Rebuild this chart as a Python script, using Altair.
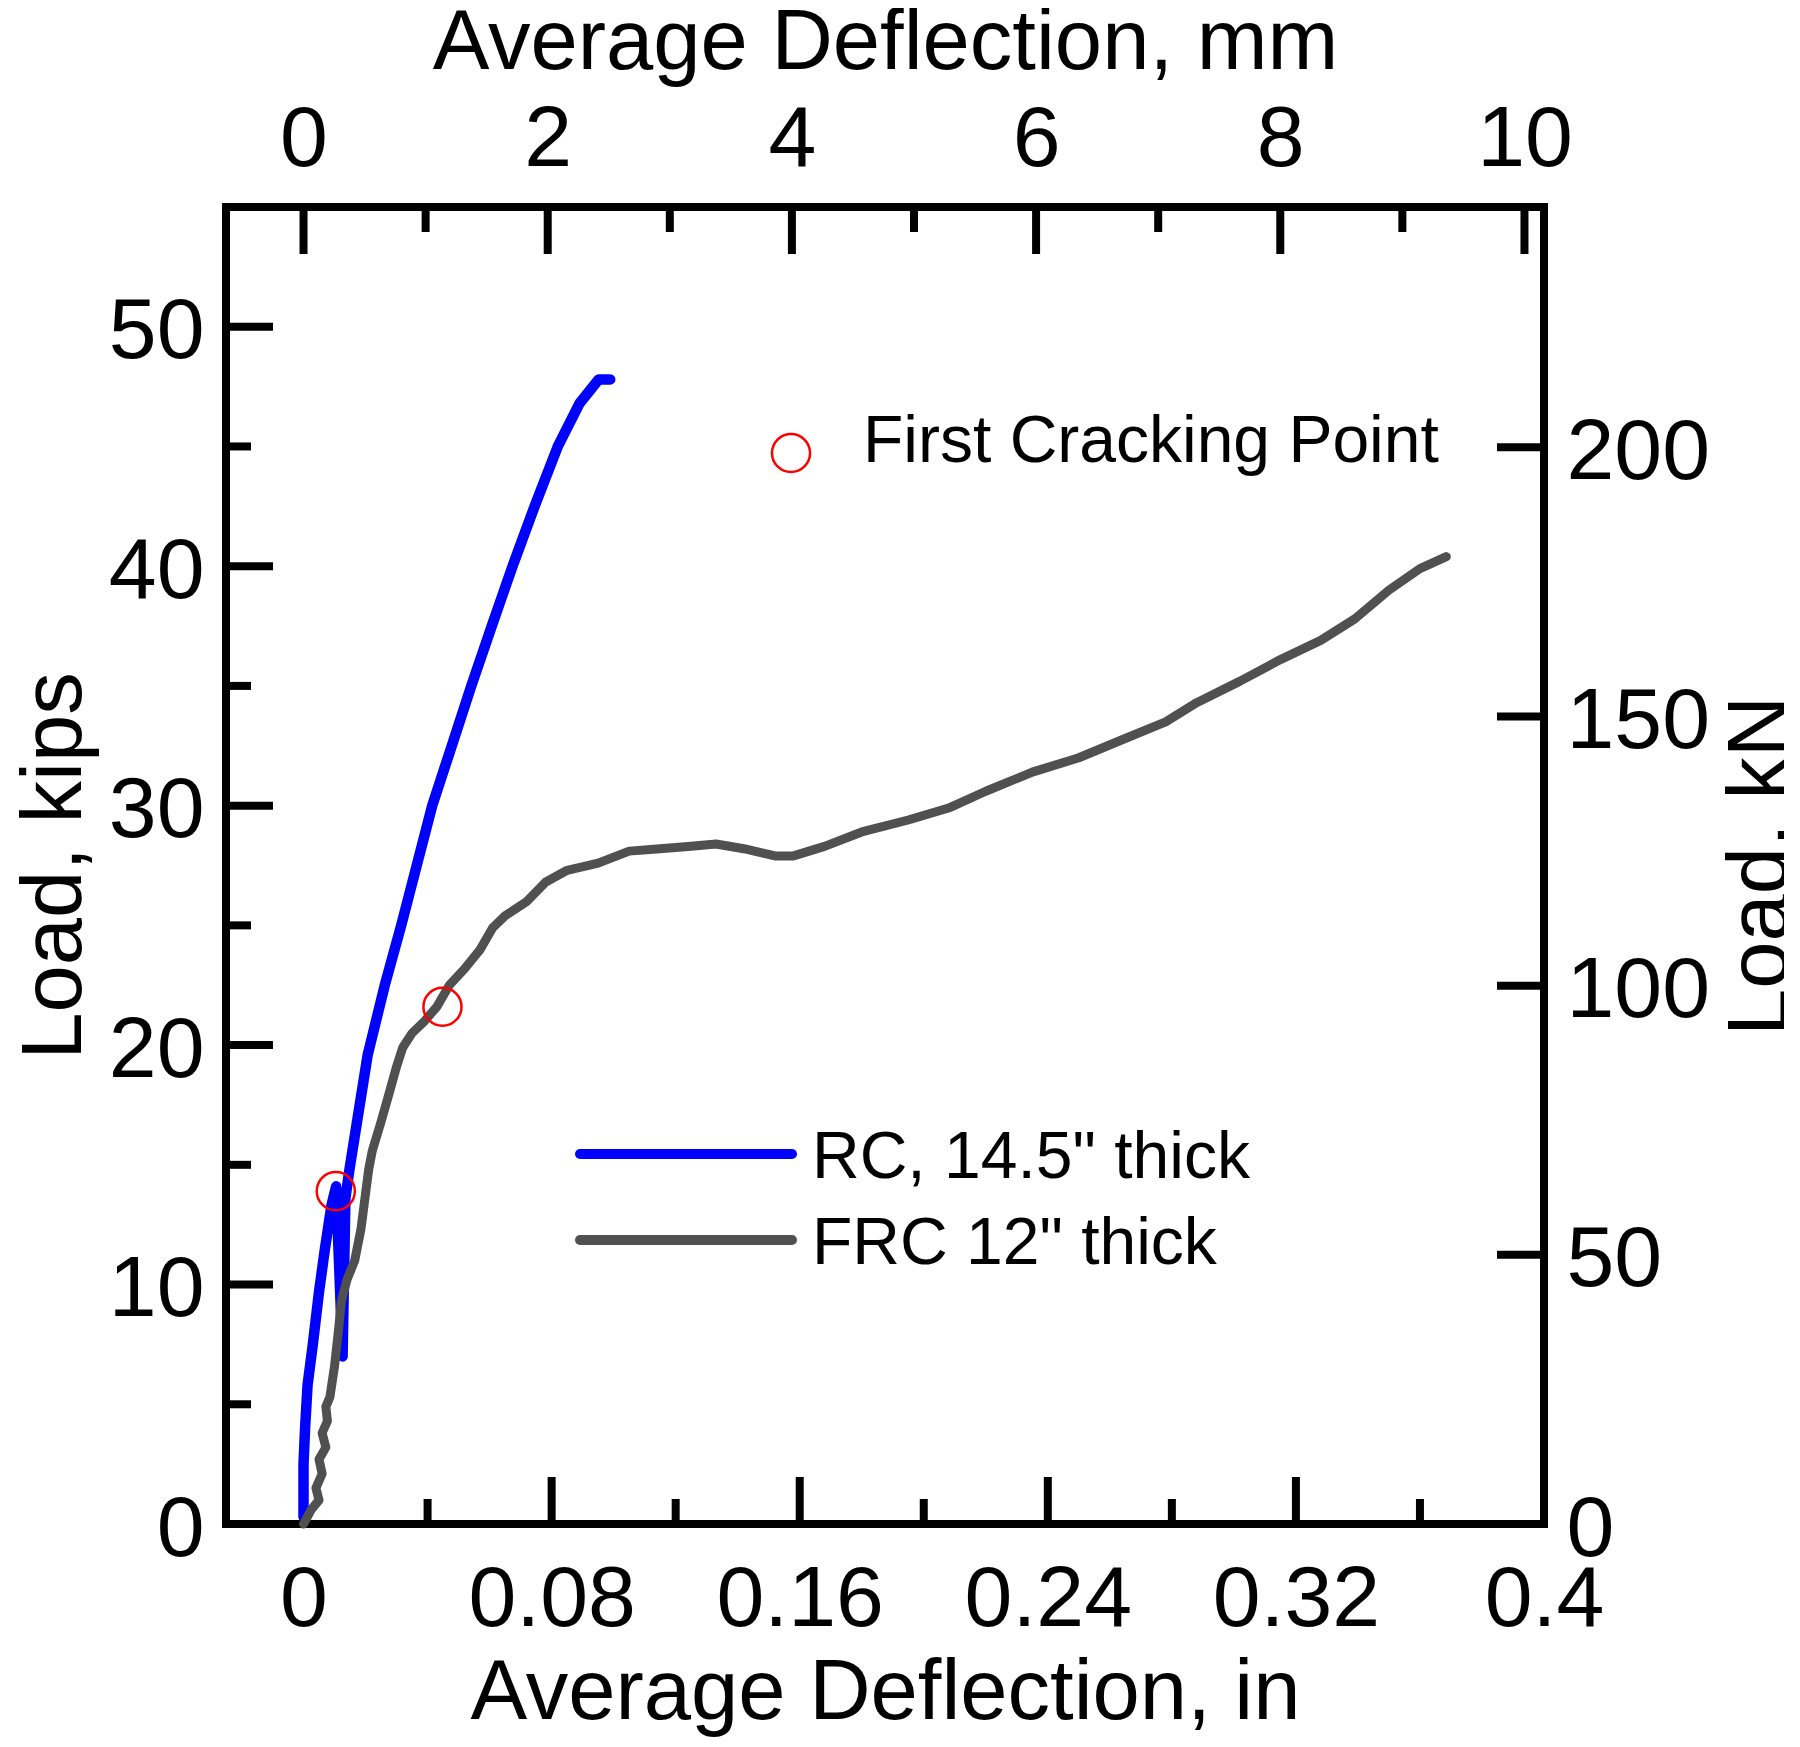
import altair as alt
import pandas as pd

# ---------------- data ----------------
rc_defl_in = [0.0, 0.0, 0.0005, 0.0013, 0.003, 0.005, 0.0068, 0.009, 0.0105,
              0.0126, 0.0135, 0.0148, 0.0175, 0.0207, 0.0262, 0.0315, 0.0365,
              0.0415, 0.0478, 0.0541, 0.0607, 0.0674, 0.0745, 0.0820, 0.0890,
              0.0952, 0.0989]
rc_load_kips = [0.3, 2.5, 4.0, 5.8, 7.5, 9.7, 11.4, 13.3, 14.1,
                7.0, 13.6, 14.8, 17.0, 19.6, 22.5, 25.0, 27.5,
                30.0, 32.5, 35.0, 37.5, 40.0, 42.5, 45.0, 46.8,
                47.8, 47.8]

frc_defl_in = [0.0, 0.0025, 0.005, 0.004, 0.006, 0.005, 0.0072, 0.006, 0.0077,
               0.0072, 0.0085, 0.0100, 0.0112, 0.0122, 0.0140, 0.0165, 0.0185,
               0.0197, 0.0210, 0.0222, 0.0250, 0.0272, 0.0300, 0.0320, 0.0350,
               0.0390, 0.0430, 0.0470, 0.0520, 0.0570, 0.0610, 0.0650, 0.0720,
               0.0780, 0.0850, 0.0950, 0.1050, 0.1150, 0.1250, 0.1330, 0.1420,
               0.1520, 0.1580, 0.1680, 0.1800, 0.1950, 0.2080, 0.2200, 0.2350,
               0.2500, 0.2630, 0.2780, 0.2880, 0.3020, 0.3150, 0.3280, 0.3390,
               0.3500, 0.3600, 0.3685]
frc_load_kips = [0.0, 0.6, 1.0, 1.5, 2.1, 2.7, 3.2, 3.8, 4.3,
                 4.9, 5.3, 6.6, 8.0, 9.3, 10.2, 11.0, 12.3,
                 13.5, 14.8, 15.6, 16.8, 17.8, 19.1, 19.9, 20.5,
                 21.0, 21.6, 22.5, 23.2, 24.0, 24.9, 25.4, 26.0,
                 26.8, 27.3, 27.6, 28.1, 28.2, 28.3, 28.4, 28.2,
                 27.9, 27.9, 28.3, 28.9, 29.4, 29.9, 30.6, 31.4,
                 32.0, 32.7, 33.5, 34.3, 35.2, 36.1, 36.9, 37.8,
                 39.0, 39.9, 40.4]

crack_defl_in = [0.0104, 0.0448]
crack_load_kips = [13.9, 21.6]

series_names = ['RC, 14.5" thick', 'FRC 12" thick']
series_colors = ['#0000ff', '#505050']
crack_label = 'First Cracking Point'

in_major = [0, 0.08, 0.16, 0.24, 0.32, 0.4]
in_minor = [0.04, 0.12, 0.2, 0.28, 0.36]
mm_major = [0, 2, 4, 6, 8, 10]
mm_minor = [1, 3, 5, 7, 9]
kips_major = [0, 10, 20, 30, 40, 50]
kips_minor = [5, 15, 25, 35, 45]
kn_major = [0, 50, 100, 150, 200]

KIP_TO_KN = 4.44822
IN_TO_MM = 25.4
x_dom = [-0.025, 0.4]
y_dom = [0, 55]

# ---------------- layout / style ----------------
W, H = 1318, 1317
FONT = 'Liberation Sans'
LBL = 86
TTL = 85
LEG = 66
MAJ, MIN = 47, 25
TW = 8

common = dict(grid=False, domain=False, ticks=False, tickSize=0,
              labelFont=FONT, labelFontSize=LBL, labelColor='black',
              labelFlush=False, labelOverlap=False,
              titleFont=FONT, titleFontSize=TTL, titleFontWeight='normal',
              titleColor='black', titleAlign='center', titleBaseline='alphabetic')

ax_bottom = alt.Axis(orient='bottom', values=in_major, format='.2~f',
                     title='Average Deflection, in', labelPadding=101,
                     labelBaseline='alphabetic', titleX=W / 2, titleY=194, **common)
ax_left = alt.Axis(orient='left', values=kips_major, format='d',
                   title='Load, kips', labelPadding=22, labelAlign='right',
                   labelBaseline='alphabetic', labelOffset=31,
                   titleX=-146, titleY=H / 2, titleAngle=270, **common)
ax_top = alt.Axis(orient='top', values=mm_major, format='d',
                  title='Average Deflection, mm', labelPadding=42,
                  labelBaseline='alphabetic', titleX=W / 2, titleY=-139, **common)
ax_right = alt.Axis(orient='right', values=kn_major, format='d',
                    title='Load, kN', labelPadding=22, labelAlign='left',
                    labelBaseline='alphabetic', labelOffset=31,
                    titleX=242, titleY=H / 2, titleAngle=270, **common)

sx_in = alt.Scale(domain=x_dom, nice=False, zero=False)
sy_kips = alt.Scale(domain=y_dom, nice=False, zero=False)
sx_mm = alt.Scale(domain=[x_dom[0] * IN_TO_MM, x_dom[1] * IN_TO_MM], nice=False, zero=False)
sy_kn = alt.Scale(domain=[y_dom[0] * KIP_TO_KN, y_dom[1] * KIP_TO_KN], nice=False, zero=False)


def X_in(f):
    return alt.X(f, type='quantitative', scale=sx_in, axis=ax_bottom)


def Y_kips(f):
    return alt.Y(f, type='quantitative', scale=sy_kips, axis=ax_left)


rc_df = pd.DataFrame({'d': rc_defl_in, 'p': rc_load_kips, 'i': range(len(rc_defl_in))})
frc_df = pd.DataFrame({'d': frc_defl_in, 'p': frc_load_kips, 'i': range(len(frc_defl_in))})
crack_df = pd.DataFrame({'d': crack_defl_in, 'p': crack_load_kips})

rc_line = alt.Chart(rc_df).mark_line(
    color=series_colors[0], strokeWidth=10.5, strokeCap='round', strokeJoin='round'
).encode(x=X_in('d'), y=Y_kips('p'), order='i:Q')

frc_line = alt.Chart(frc_df).mark_line(
    color=series_colors[1], strokeWidth=9, strokeCap='round', strokeJoin='round'
).encode(x=X_in('d'), y=Y_kips('p'), order='i:Q')

crack_pts = alt.Chart(crack_df).mark_point(
    shape='circle', filled=False, color='#ff0000', size=1450, strokeWidth=2.5, opacity=1
).encode(x=X_in('d'), y=Y_kips('p'))


# inward ticks
def vticks(vals, length, top, scale_x, axis):
    df = pd.DataFrame({'v': vals})
    if top:
        yy, yy2 = alt.value(0), alt.value(length)
    else:
        yy, yy2 = alt.value(H), alt.value(H - length)
    return alt.Chart(df).mark_rule(color='black', strokeWidth=TW).encode(
        x=alt.X('v:Q', scale=scale_x, axis=axis), y=yy, y2=yy2)


def hticks(vals, length, right, scale_y, axis):
    df = pd.DataFrame({'v': vals})
    if right:
        xx, xx2 = alt.value(W), alt.value(W - length)
    else:
        xx, xx2 = alt.value(0), alt.value(length)
    return alt.Chart(df).mark_rule(color='black', strokeWidth=TW).encode(
        y=alt.Y('v:Q', scale=scale_y, axis=axis), x=xx, x2=xx2)


b_maj = vticks(in_major, MAJ, False, sx_in, ax_bottom)
b_min = vticks(in_minor, MIN, False, sx_in, ax_bottom)
l_maj = hticks(kips_major, MAJ, False, sy_kips, ax_left)
l_min = hticks(kips_minor, MIN, False, sy_kips, ax_left)
t_maj = vticks(mm_major, MAJ, True, sx_mm, ax_top)
t_min = vticks(mm_minor, MIN, True, sx_mm, ax_top)
r_maj = hticks(kn_major, MAJ, True, sy_kn, ax_right)

# legend (drawn with marks)
one = pd.DataFrame({'k': [0]})
leg_items = []
leg_rows = [(947, 971), (1033, 1057)]
for name, col, (ly, ty) in zip(series_names, series_colors, leg_rows):
    leg_items.append(alt.Chart(one).mark_rule(color=col, strokeWidth=10, strokeCap='round').encode(
        x=alt.value(354), x2=alt.value(566), y=alt.value(ly)))
    leg_items.append(alt.Chart(one).mark_text(
        align='left', baseline='alphabetic', font=FONT, fontSize=LEG, color='black'
    ).encode(x=alt.value(586), y=alt.value(ty), text=alt.value(name)))
leg_items.append(alt.Chart(one).mark_point(
    shape='circle', filled=False, color='#ff0000', size=1450, strokeWidth=2.5, opacity=1
).encode(x=alt.value(565), y=alt.value(246)))
leg_items.append(alt.Chart(one).mark_text(
    align='left', baseline='alphabetic', font=FONT, fontSize=LEG, color='black'
).encode(x=alt.value(637), y=alt.value(255), text=alt.value(crack_label)))

group_main = alt.layer(b_maj, b_min, l_maj, l_min, rc_line, frc_line, crack_pts, *leg_items)
group_sec = alt.layer(t_maj, t_min, r_maj)

chart = alt.layer(group_main, group_sec).resolve_scale(
    x='independent', y='independent'
).properties(
    width=W, height=H,
    padding={'left': 218, 'top': 199, 'right': 240, 'bottom': 216},
    autosize=alt.AutoSizeParams(type='none'),
).configure(
    font=FONT, background='white'
).configure_view(
    stroke='black', strokeWidth=8
)

chart.save("out.html", embed_options={"renderer": "svg", "actions": False})
